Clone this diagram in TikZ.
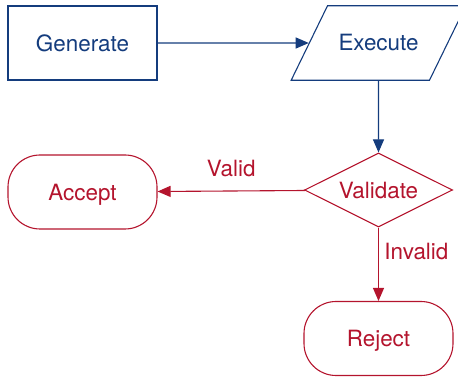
\documentclass[tikz,border=0pt]{standalone}
\usepackage{fontspec}
\setmainfont{TeX Gyre Heros}
\usetikzlibrary{shapes.geometric,arrows.meta}
\definecolor{flowblue}{RGB}{20,60,125}
\definecolor{flowred}{RGB}{180,20,45}
\tikzset{
  blueline/.style={draw=flowblue,text=flowblue,line width=1.1bp},
  redline/.style={draw=flowred,text=flowred,line width=1.1bp},
  boxnode/.style={minimum width=149bp,minimum height=74bp,inner sep=0pt,text depth=0pt},
}
\begin{document}
\begin{tikzpicture}[>={Triangle[length=13bp,width=11bp]},line join=miter,font=\fontsize{22.5}{27}\selectfont]
\useasboundingbox (0bp,0bp) rectangle (458bp,379bp);
%%
\node (gen) at (82.5bp,336bp) [blueline,boxnode,rectangle] {Generate};
  \node (exec) at (378.5bp,336bp) [blueline,trapezium,trapezium left angle=64,trapezium right angle=116,inner xsep=11bp,inner ysep=28.9bp] {Execute};
  \node (val) at (378.5bp,189bp) [redline,diamond,aspect=2,minimum width=148bp,minimum height=74bp,inner sep=0pt] {Validate};
  \node (acc) at (82.5bp,187bp) [redline,boxnode,rectangle,rounded corners=32bp] {Accept};
  \node (rej) at (378.5bp,40.5bp) [redline,boxnode,rectangle,rounded corners=32bp] {Reject};
  \draw [->,solid,blueline] (gen) -- (exec);
  \draw [->,solid,blueline] (exec) -- (val);
  \draw [->,solid,redline] (val) -- node[above=10bp] {Valid} (acc);
  \draw [->,solid,redline] (val) -- node[pos=0.32,right=2bp] {Invalid} (rej);
%
\end{tikzpicture}
\end{document}
